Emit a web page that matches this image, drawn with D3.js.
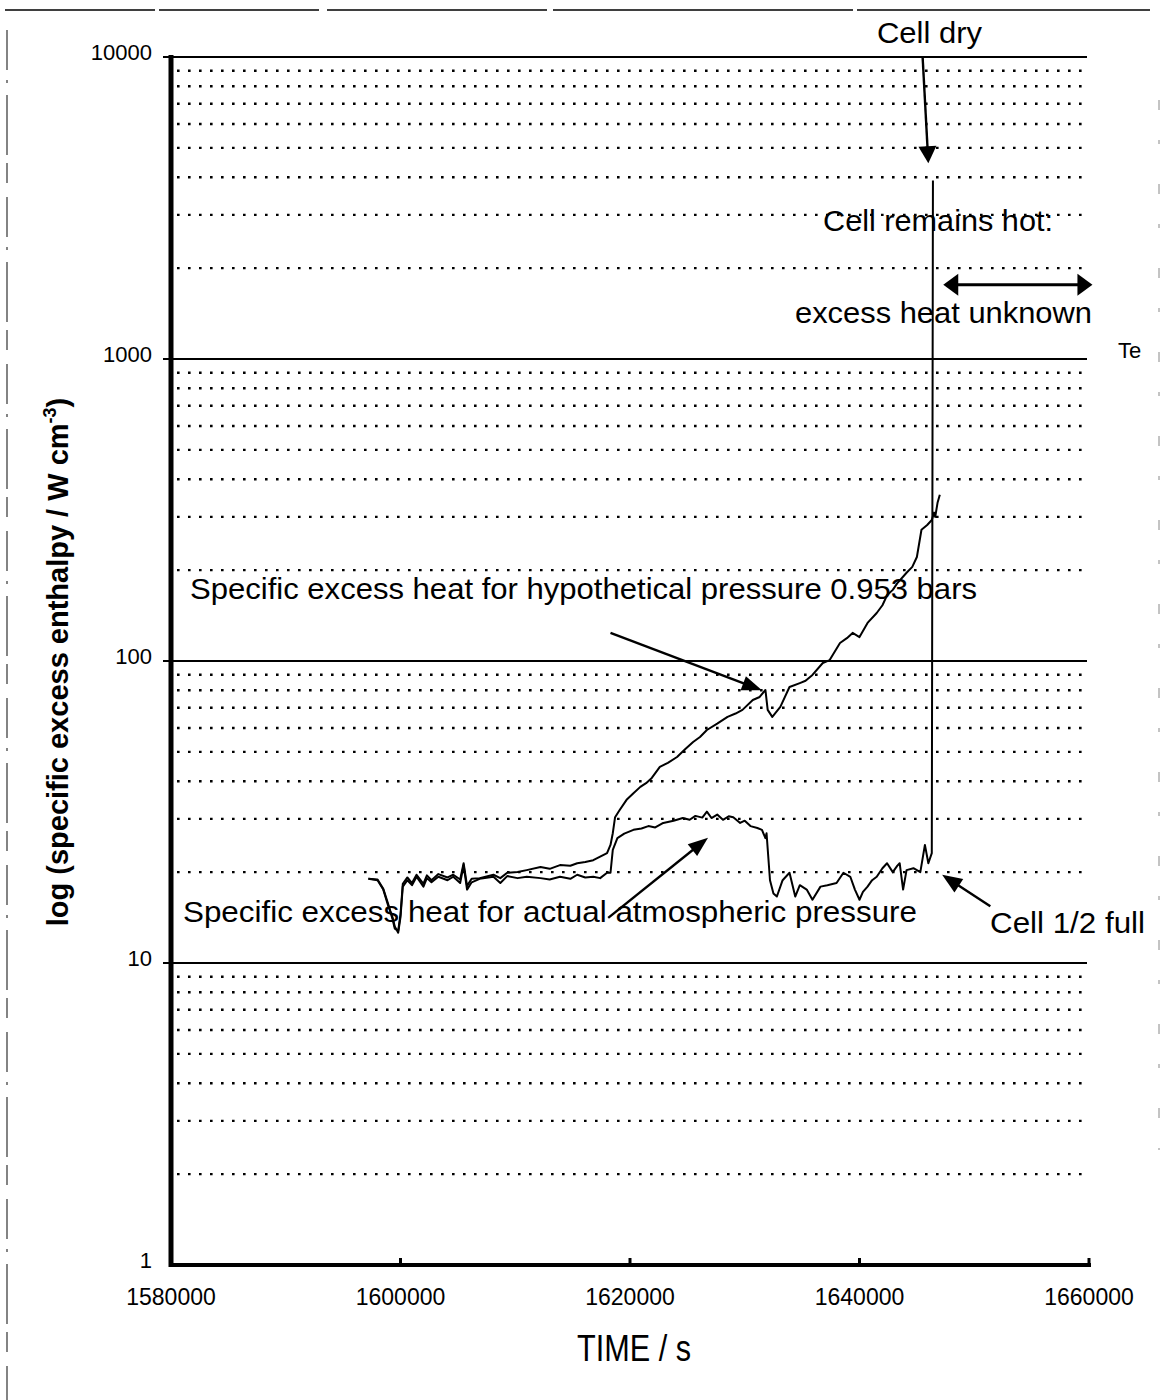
<!DOCTYPE html>
<html><head><meta charset="utf-8">
<script src="https://cdn.jsdelivr.net/npm/d3@7"></script>
<style>
body{margin:0;background:#fff;}
svg{display:block;}
text{font-family:"Liberation Sans", Arial, Helvetica, sans-serif; fill:#000;}
</style></head><body>
<svg id="chart" width="1162" height="1400"></svg>
<script>
// ---------------- data ----------------
const xTicks = [1580000, 1600000, 1620000, 1640000, 1660000];
const xTickLabels = ["1580000", "1600000", "1620000", "1640000", "1660000"];
const yTicks = [1, 10, 100, 1000, 10000];
const yTickLabels = ["1", "10", "100", "1000", "10000"];

// Specific excess heat for actual atmospheric pressure
const timeActual = [1597200,1598000,1598500,1598900,1599300,1599500,1599800,1600000,1600200,1600600,1601000,1601400,1602000,1602300,1602700,1603300,1604100,1604600,1605200,1605500,1605800,1606200,
  1606900,1608100,1608700,1609300,1610200,1611000,1612200,1613000,1613900,1614800,1615400,1616100,1616800,1617400,1618000,1618300,1618500,1618900,1619500,1620300,1621000,1621600,1622200,1622900,1623800,1624600,1625200,1625700,1626300,1626700,1627100,1627600,1628100,1628600,1629000,1629600,1630000,1630500,1631100,1631500,1631800,1631900,1632200,1632500,1632800,1633300,1633900,1634400,1634800,1635400,1635900,1636600,1637200,1638000,1638600,1639200,1639600,1640000,1640300,1640700,1641100,1641500,1642000,1642400,1642900,1643300,1643500,1643800,1644100,1644700,1645300,1645700,1646000,1646300,1646400];
const valueActual = [19.0,18.8,17.5,15.6,14.2,13.2,12.6,14.2,17.9,18.8,18.1,19.3,17.9,19.1,18.5,19.3,18.8,19.3,18.4,21.1,17.5,18.5,
  19.0,19.3,18.4,19.4,19.1,19.3,19.1,18.9,19.3,19.0,19.6,19.2,19.3,19.1,19.9,19.9,23.7,25.9,26.8,27.6,27.9,28.4,28.1,29.1,29.6,30.2,29.8,30.7,30.3,31.7,30.2,31.0,29.8,30.6,30.4,29.1,29.6,28.4,28.0,27.6,25.9,26.9,18.8,17.0,16.6,18.8,19.9,16.6,18.1,17.5,16.2,17.9,18.1,18.4,19.9,19.3,17.5,16.2,17.2,17.9,18.8,19.3,20.6,21.4,20.0,21.0,21.4,17.5,20.3,20.6,20.0,24.6,21.4,23.1,3900];

// Specific excess heat for hypothetical pressure 0.953 bars
const timeHypo = [1597200,1598000,1598500,1598900,1599300,1599500,1599800,1600000,1600200,1600600,1601000,1601400,1602000,1602300,1602700,1603300,1604100,1604600,1605200,1605500,1605800,1606200,
  1606900,1608100,1608700,1609300,1610200,1611000,1612200,1613000,1613900,1614800,1615400,1616100,1616800,1617400,1618000,1618300,1618500,1618700,1619100,1619700,1620300,1620900,1621400,1621900,1622600,1623300,1624100,1624800,1625500,1626100,1626700,1627600,1628500,1629200,1629800,1630700,1631300,1631800,1632000,1632400,1633100,1633900,1634800,1635300,1635900,1636800,1637400,1638300,1638900,1639400,1640000,1640700,1641500,1642000,1642400,1642900,1643300,1644100,1644600,1645000,1645400,1645900,1646300,1646500,1646600,1646800,1647000];
const valueHypo = [19.0,18.9,17.6,15.8,14.0,13.0,12.8,14.5,18.3,19.2,18.4,19.6,18.3,19.5,18.8,19.7,19.2,19.6,18.9,21.4,18.0,19.0,
  19.1,19.6,19.1,19.9,20.0,20.3,20.8,20.5,21.1,21.0,21.4,21.6,21.9,22.5,23.1,24.6,26.9,30.4,32.1,34.7,36.5,38.3,39.4,41.0,44.6,46.0,48.1,51.0,53.9,56.0,59.1,62.0,65.3,67.0,68.9,74.3,76.0,80.2,68.9,65.3,70.5,82.0,84.5,86.0,89.9,98.5,100.7,114.7,119.0,123.9,120.0,133.7,144.2,153,165,172,181,196,205,221,272,282,293,310,300,334,355];

// annotation arrows in data units: [t1, v1, t2, v2] (tail -> tip)
const arrowCellDry  = [1645500, 10000, 1646000, 4450];
const arrowHypo     = [1618300, 124, 1631500, 80];
const arrowActual   = [1618100, 14.1, 1626800, 26];
const arrowHalfFull = [1651400, 15.4, 1647200, 19.6];
const arrowUnknown  = [1647300, 1760, 1660300, 1760];

// ---------------- chart ----------------
const svg = d3.select("#chart");
const x = d3.scaleLinear().domain([1580000, 1660000]).range([171, 1089]);
const y = d3.scaleLog().domain([1, 10000]).range([1265, 57]);

// scan page border remnants
svg.append("line").attr("x1", 5).attr("x2", 1150).attr("y1", 10).attr("y2", 10)
  .attr("stroke", "#000").attr("stroke-width", 1.6).attr("stroke-dasharray", "150,4,160,8,220,6,300,4,400");
svg.append("line").attr("x1", 7).attr("x2", 7).attr("y1", 30).attr("y2", 1400)
  .attr("stroke", "#333").attr("stroke-width", 1.2).attr("stroke-dasharray", "40,10,3,12,60,8,20,14");
svg.append("line").attr("x1", 1159).attr("x2", 1159).attr("y1", 100).attr("y2", 1150)
  .attr("stroke", "#888").attr("stroke-width", 1).attr("stroke-dasharray", "10,30,4,40");

// grid
const allTicks = y.ticks();
const isPow = v => Math.abs(Math.log10(v) - Math.round(Math.log10(v))) < 1e-9;
const minor = allTicks.filter(v => !isPow(v));
const major = allTicks.filter(v => isPow(v) && v > 1);

svg.append("g").selectAll("line").data(minor).join("line")
  .attr("x1", 177).attr("x2", 1087)
  .attr("y1", d => y(d)).attr("y2", d => y(d))
  .attr("stroke", "#000").attr("stroke-width", 2.4).attr("stroke-dasharray", "2.6,8.4");

svg.append("g").selectAll("line").data(major).join("line")
  .attr("x1", 163).attr("x2", 1087)
  .attr("y1", d => y(d)).attr("y2", d => y(d))
  .attr("stroke", "#000").attr("stroke-width", 1.8);

// axes
svg.append("line").attr("x1", x(1580000)).attr("x2", x(1580000)).attr("y1", y(10000) - 2).attr("y2", y(1) + 2)
  .attr("stroke", "#000").attr("stroke-width", 5);
svg.append("line").attr("x1", x(1580000) - 2).attr("x2", x(1660000) + 2).attr("y1", y(1)).attr("y2", y(1))
  .attr("stroke", "#000").attr("stroke-width", 4);

svg.append("g").selectAll("line").data(xTicks.slice(1)).join("line")
  .attr("x1", d => x(d)).attr("x2", d => x(d))
  .attr("y1", y(1)).attr("y2", y(1) - 7)
  .attr("stroke", "#000").attr("stroke-width", 3);

svg.append("g").selectAll("text").data(xTicks).join("text")
  .attr("x", d => x(d)).attr("y", y(1) + 40)
  .attr("text-anchor", "middle").attr("font-size", 23)
  .text((d, i) => xTickLabels[i]);

svg.append("g").selectAll("text").data(yTicks).join("text")
  .attr("x", 152).attr("y", d => y(d) + 3)
  .attr("text-anchor", "end").attr("font-size", 22)
  .text((d, i) => yTickLabels[i]);

// axis titles
svg.append("text").attr("x", 634).attr("y", 1361).attr("text-anchor", "middle")
  .attr("font-size", 36).attr("textLength", 114).attr("lengthAdjust", "spacingAndGlyphs")
  .text("TIME / s");

const yt = svg.append("text")
  .attr("transform", "translate(68,662) rotate(-90)")
  .attr("text-anchor", "middle").attr("font-size", 29).attr("font-weight", "bold");
yt.append("tspan").text("log (specific excess enthalpy / W cm");
yt.append("tspan").attr("dy", -12).attr("font-size", 18).text("-3");
yt.append("tspan").attr("dy", 12).text(")");

// series
const line = d3.line().x(d => x(d[0])).y(d => y(d[1]));
svg.append("path").datum(d3.zip(timeHypo, valueHypo)).attr("d", line)
  .attr("fill", "none").attr("stroke", "#000").attr("stroke-width", 2).attr("stroke-linejoin", "round");
svg.append("path").datum(d3.zip(timeActual, valueActual)).attr("d", line)
  .attr("fill", "none").attr("stroke", "#000").attr("stroke-width", 2).attr("stroke-linejoin", "round");

// arrows
function head(g, px, py, ang, len, wid) {
  const bx = px - len * Math.cos(ang), by = py - len * Math.sin(ang);
  const nx = -Math.sin(ang) * wid / 2, ny = Math.cos(ang) * wid / 2;
  g.append("path").attr("d", `M${px},${py}L${bx + nx},${by + ny}L${bx - nx},${by - ny}Z`).attr("fill", "#000");
}
function arrow(a, len, wid, sw, both) {
  const x1 = x(a[0]), y1 = y(a[1]), x2 = x(a[2]), y2 = y(a[3]);
  const ang = Math.atan2(y2 - y1, x2 - x1);
  const g = svg.append("g");
  g.append("line").attr("x1", both ? x1 + len * 0.8 * Math.cos(ang) : x1).attr("y1", both ? y1 + len * 0.8 * Math.sin(ang) : y1)
    .attr("x2", x2 - len * 0.8 * Math.cos(ang)).attr("y2", y2 - len * 0.8 * Math.sin(ang))
    .attr("stroke", "#000").attr("stroke-width", sw);
  head(g, x2, y2, ang, len, wid);
  if (both) head(g, x1, y1, ang + Math.PI, len, wid);
}
arrow(arrowCellDry, 17, 18, 2.4, false);
arrow(arrowHypo, 20, 15, 2.4, false);
arrow(arrowActual, 20, 15, 2.4, false);
arrow(arrowHalfFull, 20, 16, 2.4, false);
arrow(arrowUnknown, 15, 22, 3, true);

// annotation texts
const notes = [
  {t: "Cell dry", x: 877, y: 43, w: 105, s: 29},
  {t: "Cell remains hot:", x: 823, y: 231, w: 230, s: 30},
  {t: "excess heat unknown", x: 795, y: 323, w: 297, s: 30},
  {t: "Specific excess heat for hypothetical pressure 0.953 bars", x: 190, y: 599, w: 787, s: 30},
  {t: "Specific excess heat for actual atmospheric pressure", x: 183, y: 922, w: 734, s: 30},
  {t: "Cell 1/2 full", x: 990, y: 933, w: 155, s: 29}
];
svg.append("g").selectAll("text").data(notes).join("text")
  .attr("x", d => d.x).attr("y", d => d.y).attr("font-size", d => d.s)
  .attr("textLength", d => d.w).attr("lengthAdjust", "spacingAndGlyphs")
  .text(d => d.t);
svg.append("text").attr("x", 1118).attr("y", 358).attr("font-size", 22).text("Te");
</script>
</body></html>
